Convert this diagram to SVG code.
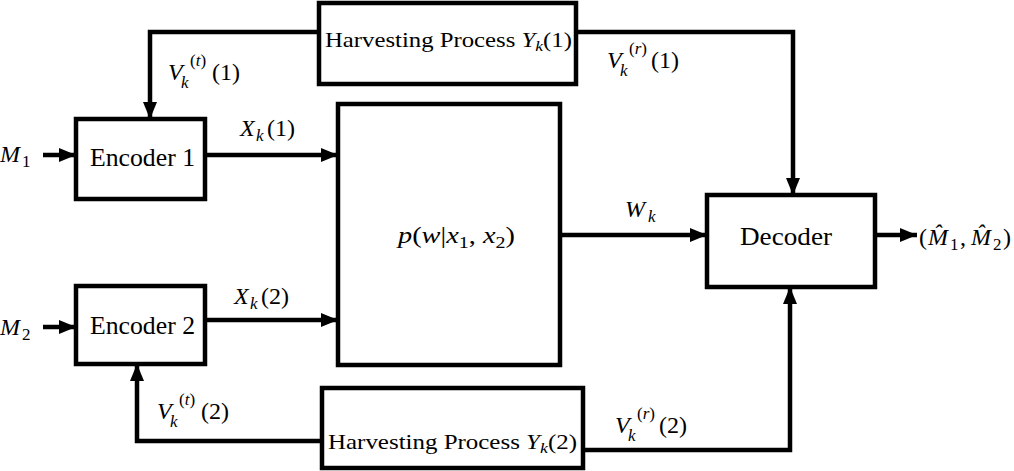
<svg xmlns="http://www.w3.org/2000/svg" width="1014" height="471" viewBox="0 0 1014 471" font-family="'Liberation Serif', Tinos, 'DejaVu Serif', serif">
<style>
.box{fill:#fff;stroke:#000;stroke-width:4.5}
.ln{fill:none;stroke:#000;stroke-width:4.5;stroke-linejoin:miter}
text{font-family:"Liberation Serif",Tinos,"DejaVu Serif",serif;fill:#000}
.m{font-style:italic}
.lbl{font-size:24px}
.s{font-size:17px}
</style>
<defs>
<marker id="ah" markerUnits="userSpaceOnUse" markerWidth="18" markerHeight="15" refX="17" refY="7.5" orient="auto">
<path d="M0,0.5 L17,7.5 L0,14.5 z" fill="#000"/>
</marker>
</defs>
<rect width="1014" height="471" fill="#fff"/>
<g id="connectors">
<line class="ln" x1="43" y1="155" x2="76" y2="155" marker-end="url(#ah)"/>
<line class="ln" x1="43" y1="327" x2="76" y2="327" marker-end="url(#ah)"/>
<line class="ln" x1="205" y1="155" x2="338" y2="155" marker-end="url(#ah)"/>
<line class="ln" x1="205" y1="320" x2="338" y2="320" marker-end="url(#ah)"/>
<polyline class="ln" points="319,32 150,32 150,119" marker-end="url(#ah)"/>
<polyline class="ln" points="576,32 793,32 793,195" marker-end="url(#ah)"/>
<line class="ln" x1="560" y1="235" x2="707" y2="235" marker-end="url(#ah)"/>
<line class="ln" x1="875" y1="235" x2="917" y2="235" marker-end="url(#ah)"/>
<polyline class="ln" points="322,441 137,441 137,364" marker-end="url(#ah)"/>
<polyline class="ln" points="583,450 790,450 790,287" marker-end="url(#ah)"/>
<text class="lbl"><tspan class="m" x="168" y="80">V</tspan><tspan class="s" x="190" y="66">(<tspan class="m">t</tspan>)</tspan><tspan class="s m" x="181" y="88">k</tspan><tspan x="212" y="80">(1)</tspan></text>
<text class="lbl"><tspan class="m" x="240" y="136">X</tspan><tspan class="s m" x="256" y="141">k</tspan><tspan x="267" y="136">(1)</tspan></text>
<text class="lbl"><tspan class="m" x="234" y="304">X</tspan><tspan class="s m" x="250" y="309">k</tspan><tspan x="261" y="304">(2)</tspan></text>
<text class="lbl"><tspan class="m" x="157" y="419">V</tspan><tspan class="s" x="179" y="405">(<tspan class="m">t</tspan>)</tspan><tspan class="s m" x="170" y="427">k</tspan><tspan x="201" y="419">(2)</tspan></text>
<text class="lbl"><tspan class="m" x="607" y="68">V</tspan><tspan class="s" x="629" y="54">(<tspan class="m">r</tspan>)</tspan><tspan class="s m" x="620" y="76">k</tspan><tspan x="651" y="68">(1)</tspan></text>
<text class="lbl"><tspan class="m" x="615" y="433">V</tspan><tspan class="s" x="637" y="419">(<tspan class="m">r</tspan>)</tspan><tspan class="s m" x="628" y="441">k</tspan><tspan x="659" y="433">(2)</tspan></text>
<text class="lbl"><tspan class="m" x="625" y="217">W</tspan><tspan class="s m" x="648" y="222">k</tspan></text>
<text class="lbl"><tspan class="m" x="0" y="162">M</tspan><tspan class="s" x="22" y="167">1</tspan></text>
<text class="lbl"><tspan class="m" x="0" y="335">M</tspan><tspan class="s" x="22" y="340">2</tspan></text>
<text class="lbl"><tspan x="919" y="245">(</tspan><tspan class="m" x="928" y="245">M&#x302;</tspan><tspan class="s" x="950" y="250">1</tspan><tspan x="960" y="245">,</tspan><tspan class="m" x="971" y="245">M&#x302;</tspan><tspan class="s" x="993" y="250">2</tspan><tspan x="1003" y="245">)</tspan></text>
</g>
<g id="encoder1">
<rect class="box" x="76" y="119" width="129" height="80"/>
<text x="90" y="166" font-size="25" textLength="105" lengthAdjust="spacingAndGlyphs">Encoder 1</text>
</g>
<g id="encoder2">
<rect class="box" x="76" y="286" width="129" height="78"/>
<text x="90" y="334" font-size="25" textLength="105" lengthAdjust="spacingAndGlyphs">Encoder 2</text>
</g>
<g id="channel">
<rect class="box" x="338" y="104" width="222" height="261"/>
<text x="398" y="243" font-size="24" textLength="117" lengthAdjust="spacingAndGlyphs"><tspan class="m">p</tspan>(<tspan class="m">w</tspan>|<tspan class="m">x</tspan><tspan font-size="17" dy="5">1</tspan><tspan dy="-5">, </tspan><tspan class="m">x</tspan><tspan font-size="17" dy="5">2</tspan><tspan dy="-5">)</tspan></text>
</g>
<g id="harvest1">
<rect class="box" x="319" y="3" width="257" height="81"/>
<text x="325" y="47" font-size="21" textLength="247" lengthAdjust="spacingAndGlyphs">Harvesting Process <tspan class="m">Y</tspan><tspan class="m" font-size="15" dy="4">k</tspan><tspan dy="-4">(1)</tspan></text>
</g>
<g id="harvest2">
<rect class="box" x="322" y="388" width="261" height="80"/>
<text x="328" y="449" font-size="21" textLength="249" lengthAdjust="spacingAndGlyphs">Harvesting Process <tspan class="m">Y</tspan><tspan class="m" font-size="15" dy="4">k</tspan><tspan dy="-4">(2)</tspan></text>
</g>
<g id="decoder">
<rect class="box" x="707" y="195" width="168" height="92"/>
<text x="740" y="245" font-size="25" textLength="92" lengthAdjust="spacingAndGlyphs">Decoder</text>
</g>
</svg>
